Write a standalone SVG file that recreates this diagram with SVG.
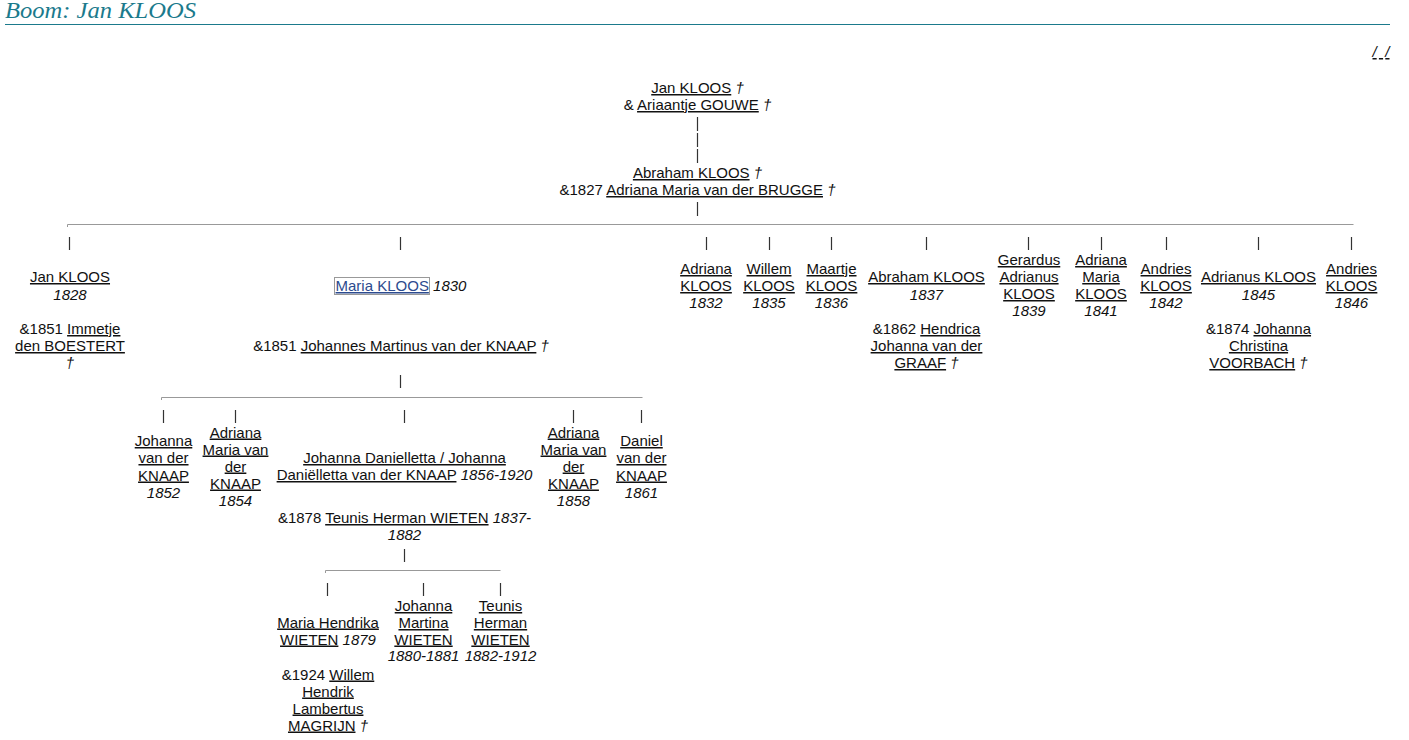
<svg xmlns="http://www.w3.org/2000/svg" width="1409" height="740" viewBox="0 0 1409 740">
<style>
text{font-family:"Liberation Sans",Arial,sans-serif;font-size:15px;fill:#111;text-anchor:middle}
.u{text-decoration:underline}
.i{font-style:italic}
.hdr{font-family:"Liberation Serif","Times New Roman",serif;font-style:italic;font-size:23px;fill:#1b7a8c;text-anchor:start}
.hl{stroke:#999;stroke-width:1;fill:none}
.vl{stroke:#333;stroke-width:1.2;fill:none}
.lnk{fill:#2d4b8e}
</style>
<rect width="1409" height="740" fill="#fff"/>
<g id="header">
<text class="hdr" x="5" y="18" textLength="191" lengthAdjust="spacingAndGlyphs">Boom: Jan KLOOS</text>
<line x1="5" y1="24.5" x2="1390" y2="24.5" stroke="#1b7a8c" stroke-width="1"/>
<text x="1381" y="57" class="i u" textLength="17" lengthAdjust="spacing">/ /</text>
</g>
<g id="connectors">
<line class="vl" x1="697.5" y1="117" x2="697.5" y2="165" stroke-dasharray="14,2"/>
<line class="vl" x1="697.5" y1="202" x2="697.5" y2="216"/>
<path class="hl" d="M67.5 227V224.5H1353.5"/>
<path class="vl" d="M69.5 237v13M400.5 237v13M706.5 237v13M769.5 237v13M831.5 237v13M926.5 237v13M1028.5 237v13M1101.5 237v13M1166.5 237v13M1258.5 237v13M1351.5 237v13"/>
<line class="vl" x1="400.5" y1="375" x2="400.5" y2="388"/>
<path class="hl" d="M161.5 400V397.5H642.5"/>
<path class="vl" d="M163.5 410v13M235.5 410v13M404.5 410v13M573.5 410v13M641.5 410v13"/>
<line class="vl" x1="404.5" y1="549" x2="404.5" y2="562"/>
<path class="hl" d="M325.5 573V570.5H500.5"/>
<path class="vl" d="M327.5 583v13M423.5 583v13M500.5 583v13"/>
</g>
<g id="n-jan-ariaantje">
<text x="697.5" y="93"><tspan class="u">Jan KLOOS</tspan> <tspan class="i">†</tspan></text>
<text x="697.5" y="110">&amp; <tspan class="u">Ariaantje GOUWE</tspan> <tspan class="i">†</tspan></text>
</g>
<g id="n-abraham-adriana">
<text x="697.5" y="178"><tspan class="u">Abraham KLOOS</tspan> <tspan class="i">†</tspan></text>
<text x="697.5" y="195">&amp;1827 <tspan class="u">Adriana Maria van der BRUGGE</tspan> <tspan class="i">†</tspan></text>
</g>
<g id="n-jan-1828">
<text x="70" y="282" class="u">Jan KLOOS</text>
<text x="70" y="299.5" class="i">1828</text>
<text x="70" y="334">&amp;1851 <tspan class="u">Immetje</tspan></text>
<text x="70" y="351" class="u">den BOESTERT</text>
<text x="70" y="368" class="i">†</text>
</g>
<g id="n-maria-1830">
<rect x="334.5" y="277.5" width="95" height="17" fill="none" stroke="#333" stroke-width="1" stroke-dasharray="1,1"/>
<text x="401" y="291"><tspan class="u lnk">Maria KLOOS</tspan> <tspan class="i">1830</tspan></text>
<text x="401" y="351">&amp;1851 <tspan class="u">Johannes Martinus van der KNAAP</tspan> <tspan class="i">†</tspan></text>
</g>
<g id="n-adriana-1832">
<text x="706" y="274" class="u">Adriana</text>
<text x="706" y="291" class="u">KLOOS</text>
<text x="706" y="308" class="i">1832</text>
</g>
<g id="n-willem-1835">
<text x="769" y="274" class="u">Willem</text>
<text x="769" y="291" class="u">KLOOS</text>
<text x="769" y="308" class="i">1835</text>
</g>
<g id="n-maartje-1836">
<text x="831.5" y="274" class="u">Maartje</text>
<text x="831.5" y="291" class="u">KLOOS</text>
<text x="831.5" y="308" class="i">1836</text>
</g>
<g id="n-abraham-1837">
<text x="926.5" y="282" class="u">Abraham KLOOS</text>
<text x="926.5" y="299.5" class="i">1837</text>
<text x="926.5" y="334">&amp;1862 <tspan class="u">Hendrica</tspan></text>
<text x="926.5" y="351" class="u">Johanna van der</text>
<text x="926.5" y="368"><tspan class="u">GRAAF</tspan> <tspan class="i">†</tspan></text>
</g>
<g id="n-gerardus-1839">
<text x="1029" y="265" class="u">Gerardus</text>
<text x="1029" y="282" class="u">Adrianus</text>
<text x="1029" y="299" class="u">KLOOS</text>
<text x="1029" y="316" class="i">1839</text>
</g>
<g id="n-adriana-maria-1841">
<text x="1101" y="265" class="u">Adriana</text>
<text x="1101" y="282" class="u">Maria</text>
<text x="1101" y="299" class="u">KLOOS</text>
<text x="1101" y="316" class="i">1841</text>
</g>
<g id="n-andries-1842">
<text x="1166" y="274" class="u">Andries</text>
<text x="1166" y="291" class="u">KLOOS</text>
<text x="1166" y="308" class="i">1842</text>
</g>
<g id="n-adrianus-1845">
<text x="1258.5" y="282" class="u">Adrianus KLOOS</text>
<text x="1258.5" y="299.5" class="i">1845</text>
<text x="1258.5" y="334">&amp;1874 <tspan class="u">Johanna</tspan></text>
<text x="1258.5" y="351" class="u">Christina</text>
<text x="1258.5" y="368"><tspan class="u">VOORBACH</tspan> <tspan class="i">†</tspan></text>
</g>
<g id="n-andries-1846">
<text x="1351.5" y="274" class="u">Andries</text>
<text x="1351.5" y="291" class="u">KLOOS</text>
<text x="1351.5" y="308" class="i">1846</text>
</g>
<g id="n-johanna-1852">
<text x="163.5" y="446" class="u">Johanna</text>
<text x="163.5" y="463" class="u">van der</text>
<text x="163.5" y="480.5" class="u">KNAAP</text>
<text x="163.5" y="497.5" class="i">1852</text>
</g>
<g id="n-adriana-1854">
<text x="235.5" y="437.5" class="u">Adriana</text>
<text x="235.5" y="454.5" class="u">Maria van</text>
<text x="235.5" y="471.5" class="u">der</text>
<text x="235.5" y="488.5" class="u">KNAAP</text>
<text x="235.5" y="505.5" class="i">1854</text>
</g>
<g id="n-johanna-danielletta">
<text x="404.5" y="463" class="u">Johanna Danielletta / Johanna</text>
<text x="404.5" y="480"><tspan class="u">Daniëlletta van der KNAAP</tspan> <tspan class="i">1856-1920</tspan></text>
<text x="404.5" y="523">&amp;1878 <tspan class="u">Teunis Herman WIETEN</tspan> <tspan class="i">1837-</tspan></text>
<text x="404.5" y="540" class="i">1882</text>
</g>
<g id="n-adriana-1858">
<text x="573.5" y="437.5" class="u">Adriana</text>
<text x="573.5" y="454.5" class="u">Maria van</text>
<text x="573.5" y="471.5" class="u">der</text>
<text x="573.5" y="488.5" class="u">KNAAP</text>
<text x="573.5" y="505.5" class="i">1858</text>
</g>
<g id="n-daniel-1861">
<text x="641.5" y="446" class="u">Daniel</text>
<text x="641.5" y="463" class="u">van der</text>
<text x="641.5" y="480.5" class="u">KNAAP</text>
<text x="641.5" y="497.5" class="i">1861</text>
</g>
<g id="n-maria-hendrika-1879">
<text x="328" y="627.5" class="u">Maria Hendrika</text>
<text x="328" y="644.5"><tspan class="u">WIETEN</tspan> <tspan class="i">1879</tspan></text>
<text x="328" y="679.5">&amp;1924 <tspan class="u">Willem</tspan></text>
<text x="328" y="696.5" class="u">Hendrik</text>
<text x="328" y="713.5" class="u">Lambertus</text>
<text x="328" y="730.5"><tspan class="u">MAGRIJN</tspan> <tspan class="i">†</tspan></text>
</g>
<g id="n-johanna-martina">
<text x="423.5" y="611" class="u">Johanna</text>
<text x="423.5" y="628" class="u">Martina</text>
<text x="423.5" y="644.5" class="u">WIETEN</text>
<text x="423.5" y="661" class="i">1880-1881</text>
</g>
<g id="n-teunis-herman">
<text x="500.5" y="611" class="u">Teunis</text>
<text x="500.5" y="628" class="u">Herman</text>
<text x="500.5" y="644.5" class="u">WIETEN</text>
<text x="500.5" y="661" class="i">1882-1912</text>
</g>
</svg>
